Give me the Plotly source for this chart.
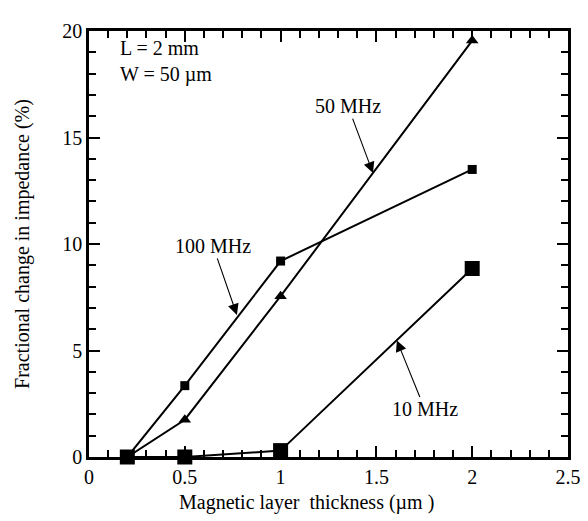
import plotly.graph_objects as go

thickness = [0.2, 0.5, 1.0, 2.0]
z_100mhz = [0.0, 3.35, 9.2, 13.5]
z_50mhz = [0.0, 1.75, 7.55, 19.55]
z_10mhz = [0.0, 0.0, 0.3, 8.85]

x_ticks = [0, 0.5, 1, 1.5, 2, 2.5]
y_ticks = [0, 5, 10, 15, 20]

FONT = "Liberation Serif"
FS = 20

fig = go.Figure()
fig.add_trace(go.Scatter(x=thickness, y=z_100mhz, mode="lines+markers",
                         line=dict(color="black", width=2),
                         marker=dict(symbol="square", size=9, color="black"),
                         cliponaxis=False, showlegend=False))
fig.add_trace(go.Scatter(x=thickness, y=z_50mhz, mode="lines+markers",
                         line=dict(color="black", width=2),
                         marker=dict(symbol="triangle-up", size=11, color="black"),
                         cliponaxis=False, showlegend=False))
fig.add_trace(go.Scatter(x=thickness, y=z_10mhz, mode="lines+markers",
                         line=dict(color="black", width=2),
                         marker=dict(symbol="square", size=15, color="black"),
                         cliponaxis=False, showlegend=False))

arrow = dict(showarrow=True, arrowhead=2, arrowsize=2, arrowwidth=1.1,
             arrowcolor="black", font=dict(family=FONT, size=FS, color="black"))
fig.add_annotation(x=1.482, y=13.33, ax=-25, ay=-67, text="50 MHz", **arrow)
fig.add_annotation(x=0.772, y=6.67, ax=-24, ay=-69, text="100 MHz", **arrow)
fig.add_annotation(x=1.607, y=5.47, ax=28, ay=69, text="10 MHz", **arrow)
fig.add_annotation(x=0.15, y=18.55, xanchor="left", yanchor="middle", showarrow=False,
                   align="left", text="L = 2 mm<br>W = 50 µm",
                   font=dict(family=FONT, size=FS, color="black"))
# axis titles
fig.add_annotation(xref="paper", yref="paper", x=0.455, y=-0.106, xanchor="center",
                   yanchor="middle", showarrow=False,
                   text="Magnetic layer \u00a0thickness (µm )",
                   font=dict(family=FONT, size=FS, color="black"))
fig.add_annotation(xref="paper", yref="paper", x=-0.14, y=0.5, xanchor="center",
                   yanchor="middle", showarrow=False, textangle=-90,
                   text="Fractional change in impedance (%)",
                   font=dict(family=FONT, size=FS, color="black"))

fig.update_xaxes(range=[x_ticks[0], x_ticks[-1]], dtick=x_ticks[1] - x_ticks[0],
                 showline=True, linecolor="black", linewidth=2.5, mirror="allticks",
                 ticks="inside", ticklen=11, tickwidth=2, tickcolor="#000001",
                 gridcolor="white", zerolinecolor="white",
                 tickfont=dict(family=FONT, size=FS, color="black"),
                 minor=dict(dtick=0.1, ticks="inside", ticklen=7, tickwidth=1.5, tickcolor="#000001"))
fig.update_yaxes(range=[y_ticks[0], y_ticks[-1]], dtick=y_ticks[1] - y_ticks[0],
                 showline=True, linecolor="black", linewidth=2.5, mirror="allticks",
                 ticks="inside", ticklen=11, tickwidth=2, tickcolor="#000001",
                 gridcolor="white", zerolinecolor="white",
                 tickfont=dict(family=FONT, size=FS, color="black"),
                 minor=dict(dtick=1, ticks="inside", ticklen=7, tickwidth=1.5, tickcolor="#000001"))
fig.update_layout(width=588, height=521, margin=dict(l=81, r=28, t=14, b=72),
                  plot_bgcolor="white", paper_bgcolor="white")
fig.write_html("out.html")
